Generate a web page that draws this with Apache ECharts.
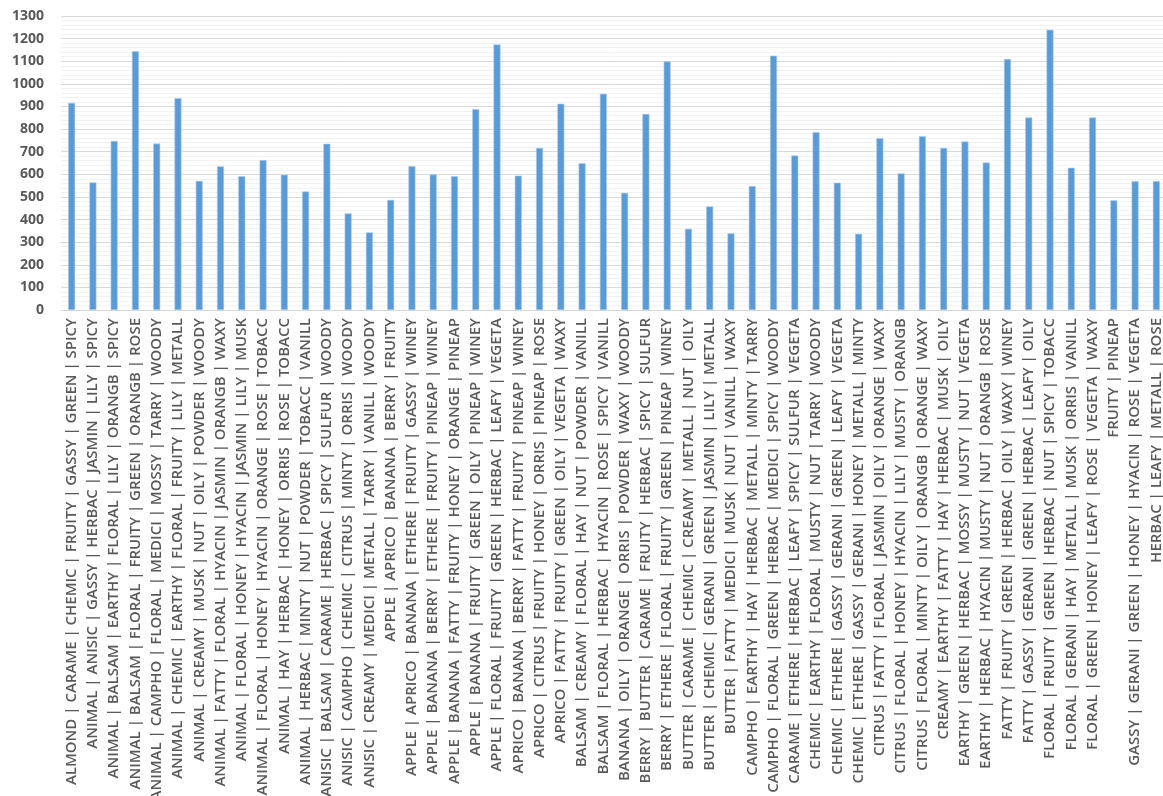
<!DOCTYPE html>
<html><head><meta charset="utf-8">
<script src="https://cdn.jsdelivr.net/npm/echarts@6/dist/echarts.min.js"></script>
<style>html,body{margin:0;padding:0;background:#fff}#c{width:1163px;height:796px}</style>
</head><body><div id="c"></div>
<script>
const categories = [
"ALMOND | CARAME | CHEMIC | FRUITY | GASSY | GREEN | SPICY",
"ANIMAL | ANISIC | GASSY | HERBAC | JASMIN | LILY | SPICY",
"ANIMAL | BALSAM | EARTHY | FLORAL | LILY | ORANGB | SPICY",
"ANIMAL | BALSAM | FLORAL | FRUITY | GREEN | ORANGB | ROSE",
"ANIMAL | CAMPHO | FLORAL | MEDICI | MOSSY | TARRY | WOODY",
"ANIMAL | CHEMIC | EARTHY | FLORAL | FRUITY | LILY | METALL",
"ANIMAL | CREAMY | MUSK | NUT | OILY | POWDER | WOODY",
"ANIMAL | FATTY | FLORAL | HYACIN | JASMIN | ORANGB | WAXY",
"ANIMAL | FLORAL | HONEY | HYACIN | JASMIN | LILY | MUSK",
"ANIMAL | FLORAL | HONEY | HYACIN | ORANGE | ROSE | TOBACC",
"ANIMAL | HAY | HERBAC | HONEY | ORRIS | ROSE | TOBACC",
"ANIMAL | HERBAC | MINTY | NUT | POWDER | TOBACC | VANILL",
"ANISIC | BALSAM | CARAME | HERBAC | SPICY | SULFUR | WOODY",
"ANISIC | CAMPHO | CHEMIC | CITRUS | MINTY | ORRIS | WOODY",
"ANISIC | CREAMY | MEDICI | METALL | TARRY | VANILL | WOODY",
"APPLE | APRICO | BANANA | BERRY | FRUITY",
"APPLE | APRICO | BANANA | ETHERE | FRUITY | GASSY | WINEY",
"APPLE | BANANA | BERRY | ETHERE | FRUITY | PINEAP | WINEY",
"APPLE | BANANA | FATTY | FRUITY | HONEY | ORANGE | PINEAP",
"APPLE | BANANA | FRUITY | GREEN | OILY | PINEAP | WINEY",
"APPLE | FLORAL | FRUITY | GREEN | HERBAC | LEAFY | VEGETA",
"APRICO | BANANA | BERRY | FATTY | FRUITY | PINEAP | WINEY",
"APRICO | CITRUS | FRUITY | HONEY | ORRIS | PINEAP | ROSE",
"APRICO | FATTY | FRUITY | GREEN | OILY | VEGETA | WAXY",
"BALSAM | CREAMY | FLORAL | HAY | NUT | POWDER | VANILL",
"BALSAM | FLORAL | HERBAC | HYACIN | ROSE | SPICY | VANILL",
"BANANA | OILY | ORANGE | ORRIS | POWDER | WAXY | WOODY",
"BERRY | BUTTER | CARAME | FRUITY | HERBAC | SPICY | SULFUR",
"BERRY | ETHERE | FLORAL | FRUITY | GREEN | PINEAP | WINEY",
"BUTTER | CARAME | CHEMIC | CREAMY | METALL | NUT | OILY",
"BUTTER | CHEMIC | GERANI | GREEN | JASMIN | LILY | METALL",
"BUTTER | FATTY | MEDICI | MUSK | NUT | VANILL | WAXY",
"CAMPHO | EARTHY | HAY | HERBAC | METALL | MINTY | TARRY",
"CAMPHO | FLORAL | GREEN | HERBAC | MEDICI | SPICY | WOODY",
"CARAME | ETHERE | HERBAC | LEAFY | SPICY | SULFUR | VEGETA",
"CHEMIC | EARTHY | FLORAL | MUSTY | NUT | TARRY | WOODY",
"CHEMIC | ETHERE | GASSY | GERANI | GREEN | LEAFY | VEGETA",
"CHEMIC | ETHERE | GASSY | GERANI | HONEY | METALL | MINTY",
"CITRUS | FATTY | FLORAL | JASMIN | OILY | ORANGE | WAXY",
"CITRUS | FLORAL | HONEY | HYACIN | LILY | MUSTY | ORANGB",
"CITRUS | FLORAL | MINTY | OILY | ORANGB | ORANGE | WAXY",
"CREAMY | EARTHY | FATTY | HAY | HERBAC | MUSK | OILY",
"EARTHY | GREEN | HERBAC | MOSSY | MUSTY | NUT | VEGETA",
"EARTHY | HERBAC | HYACIN | MUSTY | NUT | ORANGB | ROSE",
"FATTY | FRUITY | GREEN | HERBAC | OILY | WAXY | WINEY",
"FATTY | GASSY | GERANI | GREEN | HERBAC | LEAFY | OILY",
"FLORAL | FRUITY | GREEN | HERBAC | NUT | SPICY | TOBACC",
"FLORAL | GERANI | HAY | METALL | MUSK | ORRIS | VANILL",
"FLORAL | GREEN | HONEY | LEAFY | ROSE | VEGETA | WAXY",
"FRUITY | PINEAP",
"GASSY | GERANI | GREEN | HONEY | HYACIN | ROSE | VEGETA",
"HERBAC | LEAFY | METALL | ROSE"
];
const values = [
916, 564, 747, 1144, 736, 937, 571, 635, 592, 663,
598, 524, 735, 427, 343, 487, 636, 599, 592, 888,
1174, 594, 717, 912, 649, 956, 518, 867, 1099, 359,
458, 339, 548, 1125, 683, 786, 563, 337, 760, 604,
769, 717, 745, 652, 1110, 851, 1239, 629, 851, 485,
570, 570
];
const yTicks = [0, 100, 200, 300, 400, 500, 600, 700, 800, 900, 1000, 1100, 1200, 1300];

const chart = echarts.init(document.getElementById('c'), null, {renderer: 'canvas'});
chart.setOption({
  animation: false,
  backgroundColor: '#ffffff',
  grid: {left: 61, right: -4, top: 16, bottom: 486, containLabel: false, outerBoundsMode: 'none'},
  xAxis: {
    type: 'category',
    data: categories,
    axisLine: {show: true, lineStyle: {color: '#d9d9d9', width: 1}},
    axisTick: {show: false},
    axisLabel: {
      interval: 0, rotate: 90, margin: 8,
      color: '#595959', fontFamily: 'Open Sans', fontSize: 15, fontWeight: 600
    }
  },
  yAxis: {
    type: 'value',
    min: yTicks[0], max: yTicks[yTicks.length - 1], interval: 100,
    axisLine: {show: false},
    axisTick: {show: false},
    axisLabel: {color: '#595959', fontFamily: 'Open Sans', fontSize: 14, fontWeight: 'bold', margin: 17,
      formatter: function (v) { return String(v); }},
    splitLine: {show: true, lineStyle: {color: '#d9d9d9', width: 1}},
    minorTick: {show: false, splitNumber: 5},
    minorSplitLine: {show: true, lineStyle: {color: '#f2f2f2', width: 1}}
  },
  series: [{
    type: 'bar',
    data: values,
    barWidth: 7,
    itemStyle: {color: '#5b9bd5', borderColor: '#a9c9ea', borderWidth: 0.6}
  }]
});
</script></body></html>
